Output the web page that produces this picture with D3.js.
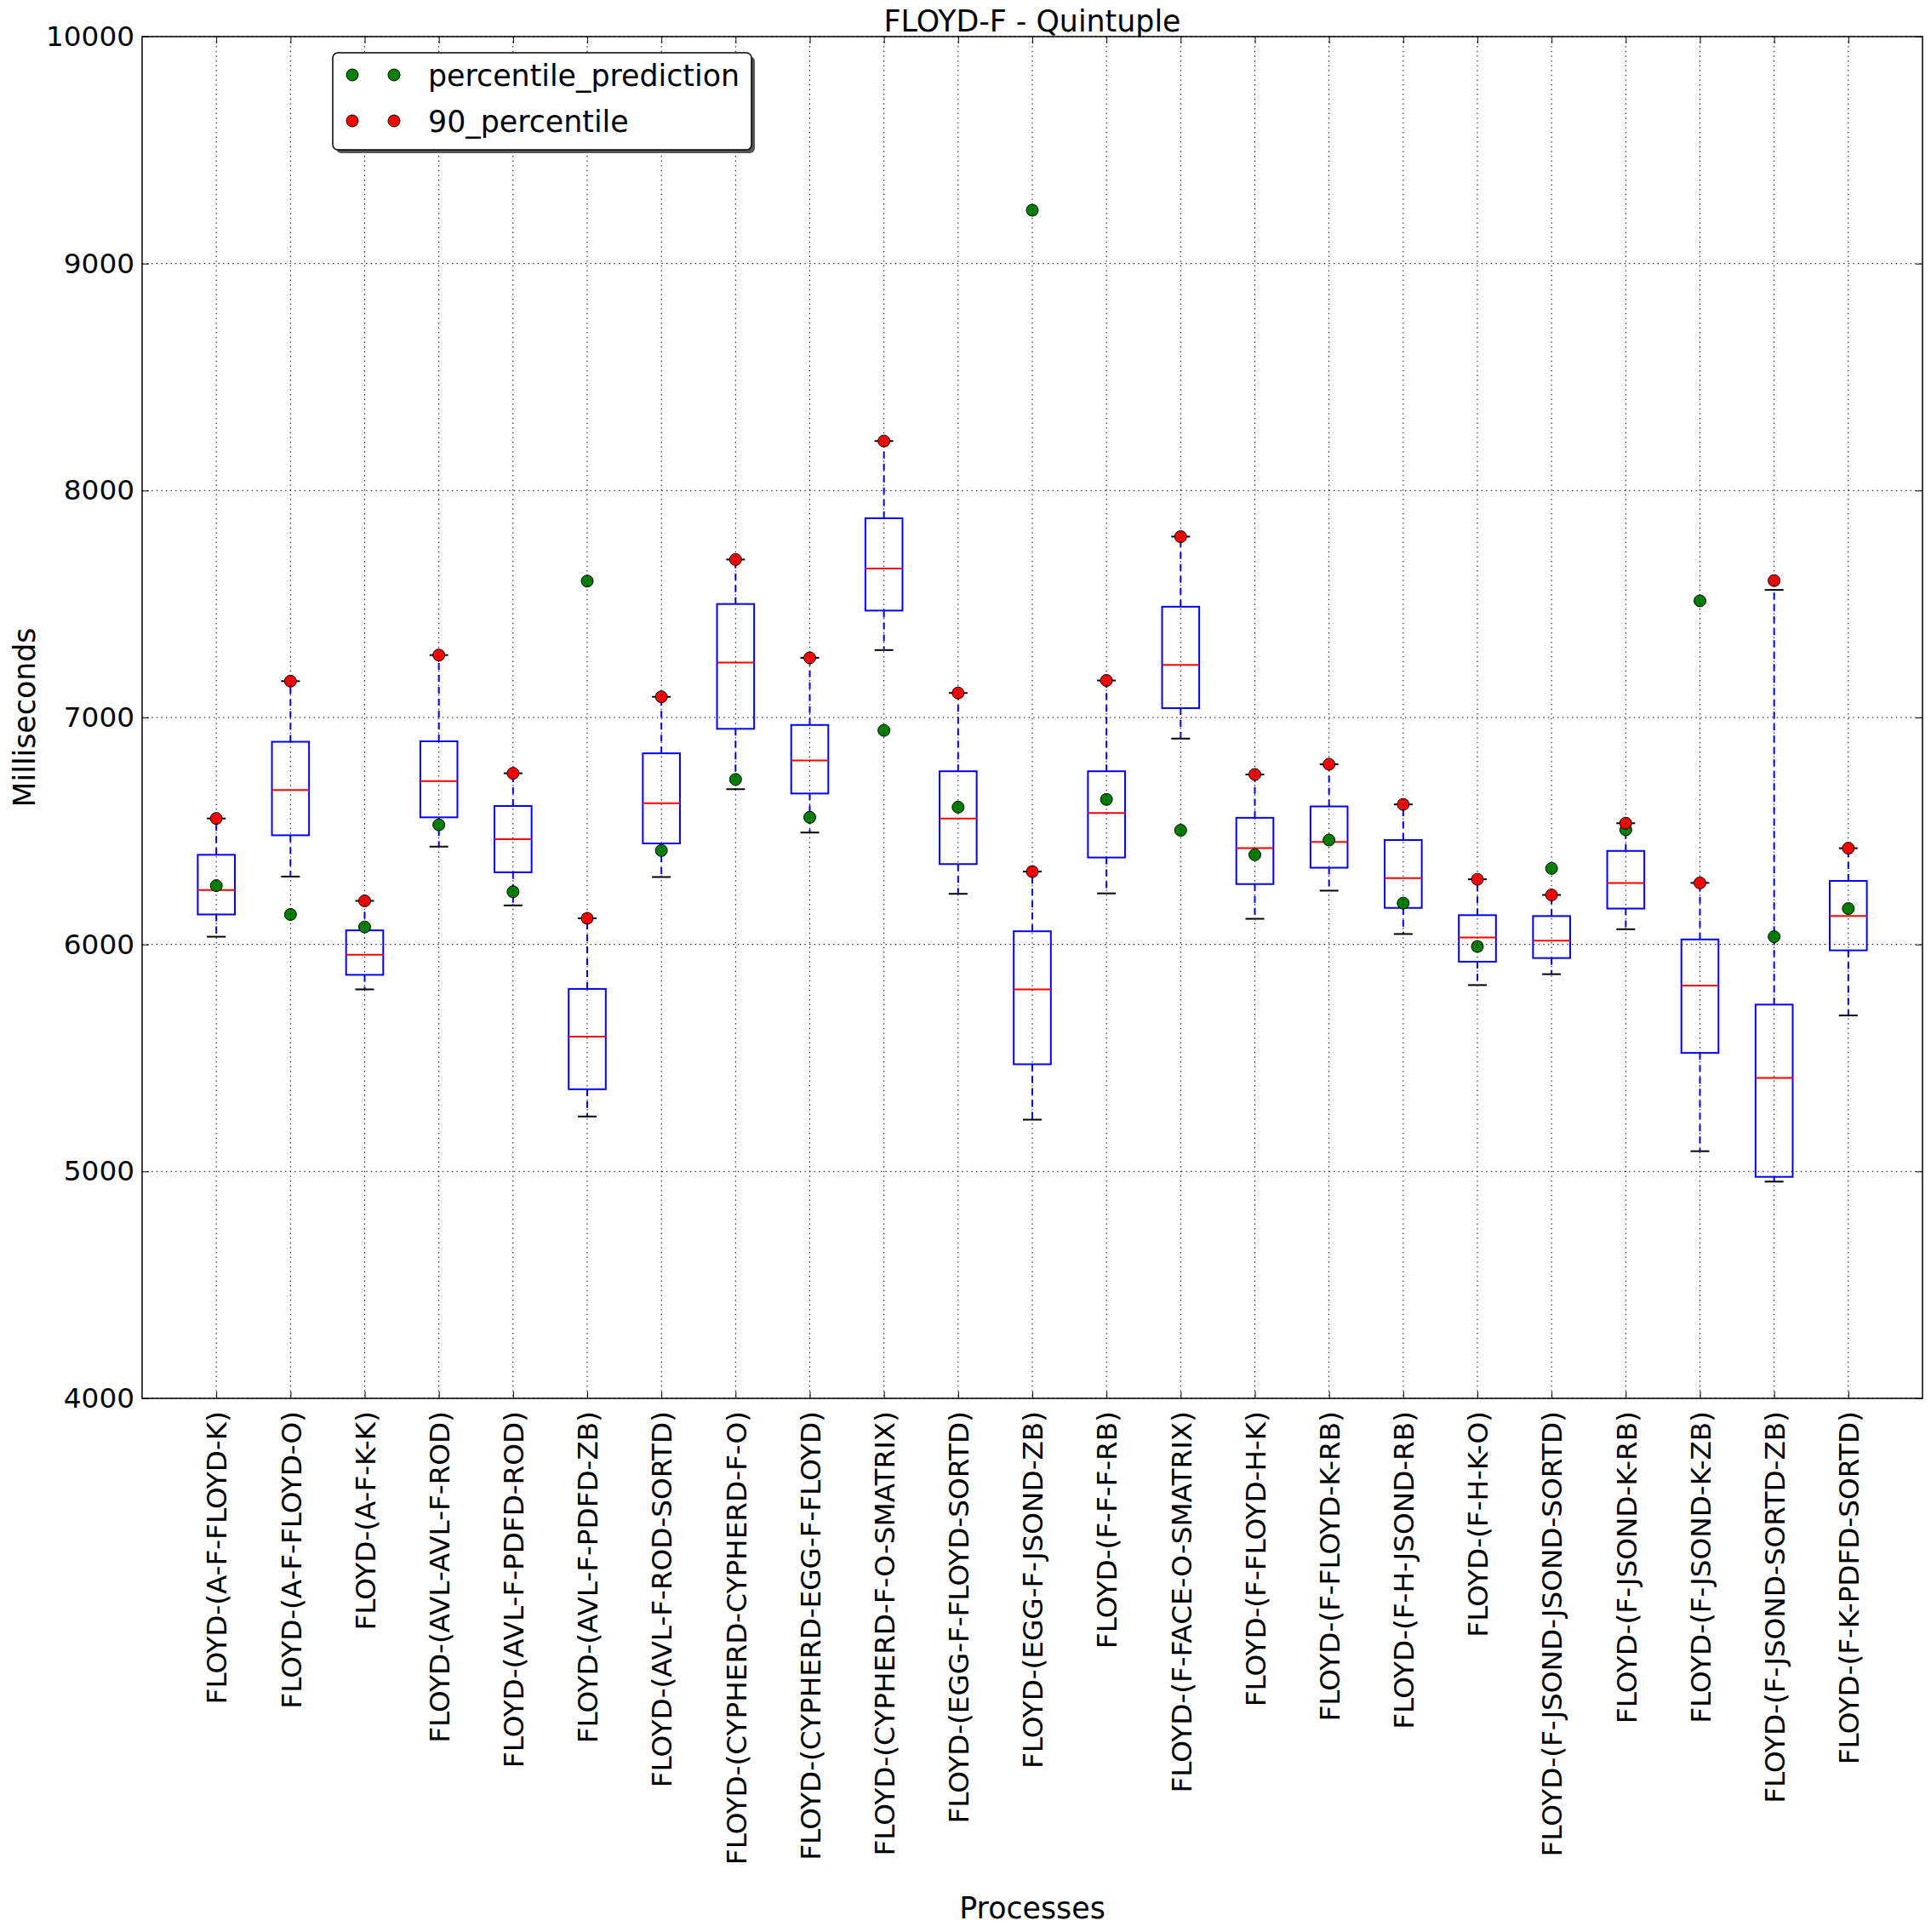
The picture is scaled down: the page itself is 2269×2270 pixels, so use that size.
<!DOCTYPE html>
<html lang="en">
    <head>
        <meta charset="utf-8">
        <title>FLOYD-F - Quintuple</title>
        <script type="text/javascript" src="https://cdnjs.cloudflare.com/ajax/libs/d3/7.8.5/d3.min.js"></script>
        <style>
          body { margin: 0; background: #fff; }
          text { font-family: "DejaVu Sans", sans-serif; }
        </style>
    </head>
    <body>
        <svg width="2269" height="2270"></svg>
        <script type="text/javascript">
            // process names (x axis)
            var categories = [
              "FLOYD-(A-F-FLOYD-K)", "FLOYD-(A-F-FLOYD-O)", "FLOYD-(A-F-K-K)",
              "FLOYD-(AVL-AVL-F-ROD)", "FLOYD-(AVL-F-PDFD-ROD)", "FLOYD-(AVL-F-PDFD-ZB)",
              "FLOYD-(AVL-F-ROD-SORTD)", "FLOYD-(CYPHERD-CYPHERD-F-O)", "FLOYD-(CYPHERD-EGG-F-FLOYD)",
              "FLOYD-(CYPHERD-F-O-SMATRIX)", "FLOYD-(EGG-F-FLOYD-SORTD)", "FLOYD-(EGG-F-JSOND-ZB)",
              "FLOYD-(F-F-F-RB)", "FLOYD-(F-FACE-O-SMATRIX)", "FLOYD-(F-FLOYD-H-K)",
              "FLOYD-(F-FLOYD-K-RB)", "FLOYD-(F-H-JSOND-RB)", "FLOYD-(F-H-K-O)",
              "FLOYD-(F-JSOND-JSOND-SORTD)", "FLOYD-(F-JSOND-K-RB)", "FLOYD-(F-JSOND-K-ZB)",
              "FLOYD-(F-JSOND-SORTD-ZB)", "FLOYD-(F-K-PDFD-SORTD)"
            ];

            // box plot statistics (milliseconds)
            var whiskerLow  = [6034, 6299, 5802, 6431, 6172, 5242, 6297, 6684, 6493, 7297, 6223, 5228,
                               6225, 6907, 6113, 6237, 6046, 5821, 5869, 6067, 5089, 4955, 5687];
            var q1          = [6132, 6481, 5866, 6560, 6318, 5362, 6445, 6950, 6665, 7471, 6354, 5472,
                               6383, 7041, 6266, 6338, 6161, 5924, 5940, 6158, 5522, 4976, 5974];
            var median      = [6240, 6680, 5955, 6720, 6464, 5594, 6622, 7242, 6811, 7656, 6555, 5802,
                               6579, 7232, 6424, 6452, 6292, 6031, 6017, 6271, 5819, 5412, 6125];
            var q3          = [6395, 6893, 6062, 6895, 6610, 5804, 6842, 7500, 6967, 7878, 6763, 6058,
                               6763, 7488, 6558, 6608, 6460, 6129, 6125, 6412, 6022, 5735, 6280];
            var whiskerHigh = [6555, 7160, 6192, 7275, 6754, 6115, 7091, 7696, 7263, 8218, 7108, 6321,
                               7163, 7797, 6749, 6794, 6617, 6287, 6218, 6534, 6271, 7562, 6424];

            // point series
            var percentilePrediction = [6259, 6132, 6077, 6527, 6232, 7601, 6414, 6727, 6560, 6943, 6605, 9235,
                                        6639, 6503, 6395, 6460, 6182, 5991, 6335, 6505, 7514, 6034, 6158];
            var percentile90 = [6555, 7160, 6192, 7275, 6754, 6115, 7091, 7696, 7263, 8218, 7108, 6321,
                                7163, 7797, 6749, 6794, 6617, 6287, 6218, 6534, 6271, 7603, 6424];

            // y tick labels
            var yTicks = [4000, 5000, 6000, 7000, 8000, 9000, 10000];

            // set margin
            var svg = d3.select("svg"),
                margin = {top: 43, right: 10, bottom: 627, left: 167},
                width = +svg.attr("width") - margin.left - margin.right,
                height = +svg.attr("height") - margin.top - margin.bottom;

            var boxWidth = 43.6;
            var capWidth = 22;
            var radius = 7;
            var tickFont = "32.7px";
            var labelFont = "34.8px";

            // scales
            var x_scale = d3.scalePoint()
                .domain(categories)
                .range([0, width])
                .padding(1);

            var y_scale = d3.scaleLinear()
                .domain([4000, 10000])
                .range([height, 0]);

            var g = svg.append("g")
                .attr("transform", "translate(" + margin.left + "," + margin.top + ")");

            // table of boxes built from the arrays
            var boxes = categories.map(function(c, i) {
              return {name: c, lo: whiskerLow[i], q1: q1[i], med: median[i], q3: q3[i], hi: whiskerHigh[i]};
            });

            // whiskers
            g.selectAll(".whisker-low")
              .data(boxes)
              .enter()
                .append("line")
                .attr("x1", function(d) { return x_scale(d.name); })
                .attr("x2", function(d) { return x_scale(d.name); })
                .attr("y1", function(d) { return y_scale(d.q1); })
                .attr("y2", function(d) { return y_scale(d.lo); })
                .attr("stroke", "#0000ff")
                .attr("stroke-width", 2)
                .attr("stroke-dasharray", "8,6");

            g.selectAll(".whisker-high")
              .data(boxes)
              .enter()
                .append("line")
                .attr("x1", function(d) { return x_scale(d.name); })
                .attr("x2", function(d) { return x_scale(d.name); })
                .attr("y1", function(d) { return y_scale(d.q3); })
                .attr("y2", function(d) { return y_scale(d.hi); })
                .attr("stroke", "#0000ff")
                .attr("stroke-width", 2)
                .attr("stroke-dasharray", "8,6");

            // caps
            ["lo", "hi"].forEach(function(k) {
              g.selectAll(".cap-" + k)
                .data(boxes)
                .enter()
                  .append("line")
                  .attr("x1", function(d) { return x_scale(d.name) - capWidth / 2; })
                  .attr("x2", function(d) { return x_scale(d.name) + capWidth / 2; })
                  .attr("y1", function(d) { return y_scale(d[k]); })
                  .attr("y2", function(d) { return y_scale(d[k]); })
                  .attr("stroke", "#000")
                  .attr("stroke-width", 2);
            });

            // boxes
            g.selectAll(".box")
              .data(boxes)
              .enter()
                .append("rect")
                .attr("class", "box")
                .attr("x", function(d) { return x_scale(d.name) - boxWidth / 2; })
                .attr("width", boxWidth)
                .attr("y", function(d) { return y_scale(d.q3); })
                .attr("height", function(d) { return y_scale(d.q1) - y_scale(d.q3); })
                .attr("fill", "none")
                .attr("stroke", "#0000ff")
                .attr("stroke-width", 2);

            // medians
            g.selectAll(".median")
              .data(boxes)
              .enter()
                .append("line")
                .attr("x1", function(d) { return x_scale(d.name) - boxWidth / 2; })
                .attr("x2", function(d) { return x_scale(d.name) + boxWidth / 2; })
                .attr("y1", function(d) { return y_scale(d.med); })
                .attr("y2", function(d) { return y_scale(d.med); })
                .attr("stroke", "#ff0000")
                .attr("stroke-width", 2);

            // percentile prediction dots
            g.selectAll(".pred")
              .data(percentilePrediction)
              .enter()
                .append("circle")
                .attr("cx", function(d, i) { return x_scale(categories[i]); })
                .attr("cy", function(d) { return y_scale(d); })
                .attr("r", radius)
                .attr("fill", "#008000")
                .attr("stroke", "#000")
                .attr("stroke-width", 1);

            // 90 percentile dots
            g.selectAll(".p90")
              .data(percentile90)
              .enter()
                .append("circle")
                .attr("cx", function(d, i) { return x_scale(categories[i]); })
                .attr("cy", function(d) { return y_scale(d); })
                .attr("r", radius)
                .attr("fill", "#ff0000")
                .attr("stroke", "#000")
                .attr("stroke-width", 1);

            // grid (drawn over the marks, like the original)
            g.selectAll(".hgrid")
              .data(yTicks)
              .enter()
                .append("line")
                .attr("x1", 0)
                .attr("x2", width)
                .attr("y1", function(d) { return y_scale(d); })
                .attr("y2", function(d) { return y_scale(d); })
                .attr("stroke", "#000")
                .attr("stroke-width", 1)
                .attr("stroke-dasharray", "1.4,4.2");

            g.selectAll(".vgrid")
              .data(categories)
              .enter()
                .append("line")
                .attr("x1", function(d) { return x_scale(d); })
                .attr("x2", function(d) { return x_scale(d); })
                .attr("y1", 0)
                .attr("y2", height)
                .attr("stroke", "#000")
                .attr("stroke-width", 1)
                .attr("stroke-dasharray", "1.4,4.2");

            // y axis left
            var yAxis = d3.axisLeft(y_scale)
                .tickValues(yTicks)
                .tickFormat(d3.format("d"))
                .tickSizeInner(-8)
                .tickSizeOuter(0)
                .tickPadding(9);

            var yAxisG = g.append("g")
              .attr("class", "yaxis")
              .call(yAxis);
            yAxisG.selectAll("text")
              .style("font-size", tickFont)
              .attr("fill", "#000");

            // y axis right (ticks only)
            g.append("g")
              .attr("transform", "translate(" + width + ",0)")
              .call(d3.axisRight(y_scale).tickValues(yTicks).tickSizeInner(-8).tickSizeOuter(0).tickFormat(""));

            // x axis bottom
            var xAxis = d3.axisBottom(x_scale)
                .tickSizeInner(-8)
                .tickSizeOuter(0);

            var xAxisG = g.append("g")
              .attr("class", "xaxis")
              .attr("transform", "translate(0," + height + ")")
              .call(xAxis);
            xAxisG.selectAll("text")
              .style("font-size", tickFont)
              .attr("fill", "#000")
              .style("text-anchor", "end")
              .attr("transform", "rotate(-90)")
              .attr("x", -15)
              .attr("y", 0)
              .attr("dy", "0.36em");

            // x axis top (ticks only)
            g.append("g")
              .call(d3.axisTop(x_scale).tickSizeInner(-8).tickSizeOuter(0).tickFormat(""));

            g.selectAll(".domain").remove();

            // frame
            g.append("rect")
              .attr("width", width)
              .attr("height", height)
              .attr("fill", "none")
              .attr("stroke", "#000")
              .attr("stroke-width", 1.5);

            // title
            svg.append("text")
              .attr("x", margin.left + width / 2)
              .attr("y", 37)
              .attr("text-anchor", "middle")
              .style("font-size", labelFont)
              .text("FLOYD-F - Quintuple");

            // x label
            svg.append("text")
              .attr("x", margin.left + width / 2)
              .attr("y", 2254)
              .attr("text-anchor", "middle")
              .style("font-size", labelFont)
              .text("Processes");

            // y label
            svg.append("text")
              .attr("transform", "translate(41," + (margin.top + height / 2) + ") rotate(-90)")
              .attr("text-anchor", "middle")
              .style("font-size", labelFont)
              .text("Milliseconds");

            // legend
            var legend = svg.append("g")
              .attr("transform", "translate(391,62)");

            legend.append("rect")
              .attr("x", 4)
              .attr("y", 4)
              .attr("width", 492)
              .attr("height", 114)
              .attr("rx", 6)
              .attr("fill", "#555");

            legend.append("rect")
              .attr("width", 492)
              .attr("height", 114)
              .attr("rx", 6)
              .attr("fill", "#fff")
              .attr("stroke", "#000")
              .attr("stroke-width", 1.5);

            var legendItems = [
              {label: "percentile_prediction", color: "#008000"},
              {label: "90_percentile", color: "#ff0000"}
            ];

            var rows = legend.selectAll(".row")
              .data(legendItems)
              .enter()
                .append("g")
                .attr("transform", function(d, i) { return "translate(0," + (26 + i * 54) + ")"; });

            rows.selectAll("circle")
              .data(function(d) { return [d, d]; })
              .enter()
                .append("circle")
                .attr("cx", function(d, i) { return 23 + i * 49; })
                .attr("cy", 0)
                .attr("r", radius)
                .attr("fill", function(d) { return d.color; })
                .attr("stroke", "#000")
                .attr("stroke-width", 1);

            rows.append("text")
              .attr("x", 112)
              .attr("y", 13)
              .style("font-size", labelFont)
              .text(function(d) { return d.label; });
        </script>
    </body>
</html>
